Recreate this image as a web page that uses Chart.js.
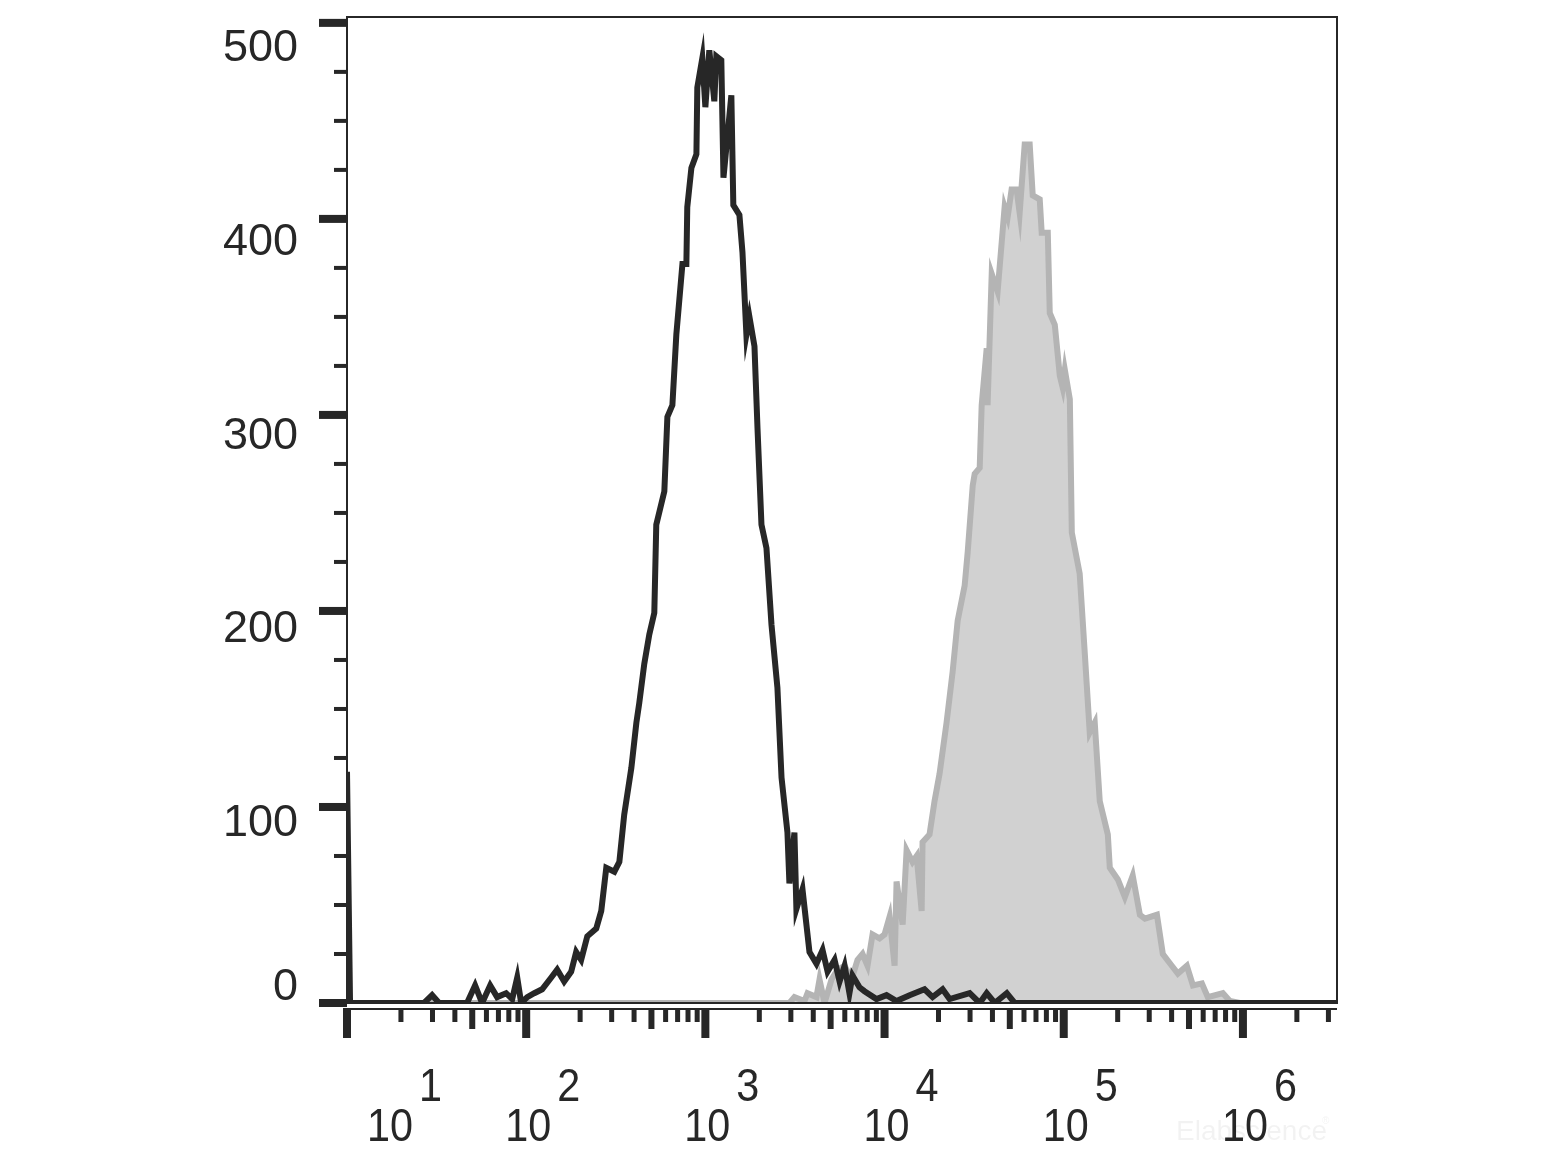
<!DOCTYPE html>
<html>
<head>
<meta charset="utf-8">
<script src="https://cdn.jsdelivr.net/npm/chart.js@4.4.1/dist/chart.umd.min.js"></script>
<style>
  html, body { margin: 0; padding: 0; background: #ffffff; }
  #wrap { width: 1560px; height: 1170px; position: relative; }
</style>
</head>
<body>
<div id="wrap"><canvas id="histChart"></canvas></div>
<script>
// fluorescence intensity, stored as log10 (decades), and event counts
const blackLogX = [1.000, 1.017, 1.430, 1.475, 1.514, 1.670, 1.715, 1.754, 1.799, 1.838,
  1.888, 1.922, 1.950, 1.972, 2.006, 2.045, 2.089, 2.140, 2.173, 2.212,
  2.251, 2.279, 2.307, 2.341, 2.391, 2.419, 2.447, 2.492, 2.520, 2.547,
  2.587, 2.615, 2.631, 2.659, 2.687, 2.715, 2.726, 2.771, 2.788, 2.816,
  2.838, 2.872, 2.894, 2.899, 2.922, 2.950, 2.955, 2.983, 3.000, 3.022,
  3.050, 3.061, 3.089, 3.101, 3.145, 3.156, 3.190, 3.207, 3.229, 3.246,
  3.274, 3.291, 3.313, 3.341, 3.369, 3.402, 3.425, 3.458, 3.469, 3.497,
  3.508, 3.542, 3.581, 3.620, 3.654, 3.682, 3.721, 3.749, 3.777, 3.804,
  3.821, 3.860, 3.888, 3.955, 4.011, 4.067, 4.140, 4.223, 4.268, 4.324,
  4.363, 4.475, 4.531, 4.570, 4.615, 4.682, 4.726, 6.525];
const blackCounts = [118, 0, 0, 4, 0, 0, 9, 0, 9, 3,
  5, 2, 13, 0, 3, 5, 7, 13, 17, 11,
  16, 26, 22, 34, 38, 47, 69, 67, 72, 96,
  120, 143, 153, 173, 188, 199, 244, 261, 299, 305,
  341, 377, 377, 406, 426, 433, 467, 482, 457, 486,
  460, 483, 481, 421, 463, 407, 402, 383, 341, 350,
  335, 293, 244, 232, 193, 161, 115, 87, 61, 87,
  48, 58, 26, 20, 27, 16, 22, 11, 19, 5,
  14, 8, 6, 2, 4, 1, 4, 7, 3, 7,
  2, 5, 0, 5, 0, 5, 0, 0];

const grayLogX = [1.000, 3.469, 3.497, 3.553, 3.570, 3.620, 3.637, 3.665, 3.704, 3.737,
  3.777, 3.816, 3.849, 3.877, 3.905, 3.933, 3.972, 4.000, 4.028, 4.056,
  4.067, 4.101, 4.123, 4.156, 4.179, 4.207, 4.212, 4.251, 4.279, 4.307,
  4.346, 4.380, 4.408, 4.447, 4.464, 4.492, 4.503, 4.531, 4.542, 4.570,
  4.575, 4.598, 4.631, 4.670, 4.687, 4.709, 4.737, 4.754, 4.782, 4.810,
  4.827, 4.866, 4.877, 4.911, 4.922, 4.950, 4.978, 4.994, 5.006, 5.034,
  5.045, 5.089, 5.117, 5.145, 5.173, 5.201, 5.246, 5.257, 5.302, 5.341,
  5.385, 5.425, 5.453, 5.520, 5.553, 5.603, 5.637, 5.687, 5.721, 5.771,
  5.804, 5.888, 5.927, 5.983, 6.525];
const grayCounts = [0, 0, 3, 1, 5, 3, 12, 0, 12, 17,
  19, 12, 22, 25, 19, 35, 33, 35, 44, 19,
  62, 40, 78, 72, 75, 47, 82, 86, 103, 117,
  143, 169, 195, 213, 230, 264, 270, 273, 305, 334,
  305, 372, 363, 406, 401, 415, 415, 403, 438, 438,
  412, 410, 393, 393, 352, 346, 320, 314, 323, 308,
  240, 219, 179, 138, 143, 103, 86, 69, 63, 54,
  65, 45, 43, 45, 25, 19, 15, 19, 9, 10,
  3, 5, 1, 0, 0];

// axis ticks and labels
const xDecades = [1, 2, 3, 4, 5, 6];
const xDecadeLabels = ['1', '2', '3', '4', '5', '6'];
const xSubSteps = [2, 3, 4, 5, 6, 7, 8, 9];
const yMajorTicks = [0, 100, 200, 300, 400, 500];
const yTickLabels = ['0', '100', '200', '300', '400', '500'];
const yMinorStep = 25;

const INK = '#272727';
const FONT = '"Liberation Sans", Arial, sans-serif';

const toPoints = (logs, counts) => logs.map((lx, i) => ({ x: Math.pow(10, lx), y: counts[i] }));

// narrow text, as in the original axis labels
function squeezedText(ctx, text, x, y, sx) {
  ctx.save();
  ctx.translate(x, y);
  ctx.scale(sx, 1);
  ctx.fillText(text, 0, 0);
  ctx.restore();
}

const axisDecor = {
  id: 'axisDecor',
  afterDraw(chart) {
    const { ctx, chartArea: a, scales } = chart;
    const x = scales.x, y = scales.y;
    ctx.save();
    ctx.fillStyle = INK;
    ctx.strokeStyle = INK;

    // frame
    ctx.lineWidth = 2;
    ctx.strokeRect(a.left, a.top, a.right - a.left, a.bottom - a.top);

    // x axis: separate line below the frame, ticks hanging down
    const axY = a.bottom + 5;
    ctx.fillRect(a.left, axY, a.right - a.left, 2);
    const xMax = x.max;
    xDecades.forEach(d => {
      const base = Math.pow(10, d);
      let px = x.getPixelForValue(base);
      ctx.fillRect(px - 4, axY, 8, 30);
      xSubSteps.forEach(m => {
        const v = m * base;
        if (v > xMax) return;
        px = x.getPixelForValue(v);
        if (m === 5) ctx.fillRect(px - 3, axY, 6, 21);
        else ctx.fillRect(px - 2.5, axY, 5, 14);
      });
    });

    // x labels 10^n
    const sx = 0.88;
    ctx.font = '47px ' + FONT;
    ctx.textAlign = 'left';
    ctx.textBaseline = 'alphabetic';
    xDecades.forEach((d, i) => {
      let cx = x.getPixelForValue(Math.pow(10, d));
      cx += (i === 0 ? 43 : 2);
      const w = ctx.measureText('10').width * sx;
      squeezedText(ctx, '10', cx - w / 2, 1141, sx);
      squeezedText(ctx, xDecadeLabels[i], cx + w / 2 + 6, 1101, sx);
    });

    // y ticks
    for (let v = 0; v <= y.max; v += yMinorStep) {
      const py = y.getPixelForValue(v);
      if (yMajorTicks.includes(v)) ctx.fillRect(a.left - 28, py - 4, 28, 8);
      else ctx.fillRect(a.left - 13, py - 2, 13, 4);
    }

    // y labels (sit a little below their ticks, the 0 above)
    ctx.font = '45px ' + FONT;
    ctx.textAlign = 'right';
    ctx.textBaseline = 'middle';
    yMajorTicks.forEach((v, i) => {
      const shift = v === 0 ? -15 : 14 + v / 100 * 2.4;
      ctx.fillText(yTickLabels[i], 298, y.getPixelForValue(v) + shift);
    });

    // faint watermark
    ctx.fillStyle = 'rgba(0,0,0,0.05)';
    ctx.font = '28px ' + FONT;
    ctx.textAlign = 'left';
    ctx.textBaseline = 'alphabetic';
    ctx.fillText('Elabscience', 1176, 1140);
    ctx.font = '10px ' + FONT;
    ctx.fillText('®', 1322, 1124);
    ctx.restore();
  }
};

new Chart(document.getElementById('histChart').getContext('2d'), {
  type: 'line',
  data: {
    datasets: [
      {
        label: 'Isotype',
        data: toPoints(blackLogX, blackCounts),
        borderColor: INK,
        borderWidth: 6,
        fill: false,
        tension: 0,
        pointRadius: 0,
        borderJoinStyle: 'miter'
      },
      {
        label: 'Stained',
        data: toPoints(grayLogX, grayCounts),
        borderColor: '#b4b4b4',
        backgroundColor: '#d1d1d1',
        borderWidth: 6,
        fill: 'origin',
        tension: 0,
        pointRadius: 0,
        borderJoinStyle: 'miter'
      }
    ]
  },
  options: {
    responsive: true,
    maintainAspectRatio: false,
    animation: false,
    layout: { padding: { left: 347, right: 223, top: 17, bottom: 167 } },
    plugins: {
      legend: { display: false },
      tooltip: { enabled: false }
    },
    scales: {
      x: { type: 'logarithmic', min: 10, max: Math.pow(10, 6.525), display: false },
      y: { type: 'linear', min: 0, max: 503, display: false }
    }
  },
  plugins: [axisDecor]
});
</script>
</body>
</html>
